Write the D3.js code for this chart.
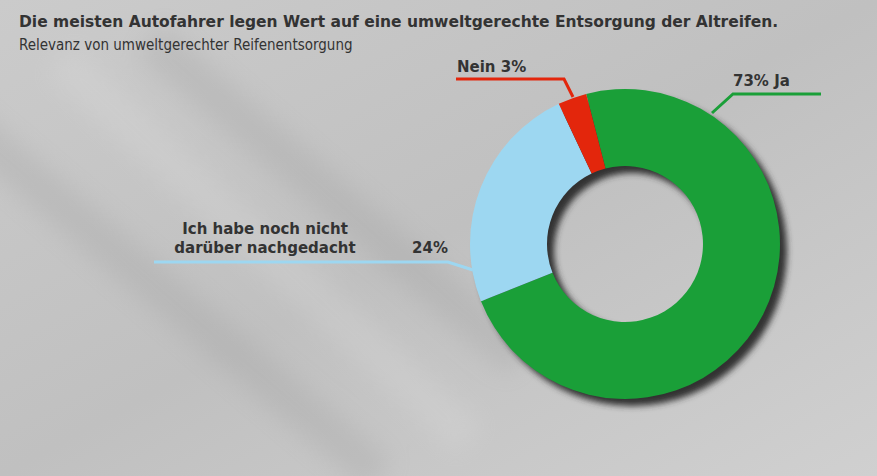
<!DOCTYPE html>
<html lang="de">
<head>
<meta charset="UTF-8">
<title>Reifenentsorgung</title>
<style>
  body { margin: 0; overflow: hidden; }
  text { font-family: "DejaVu Sans", sans-serif; fill: #333; }
</style>
</head>
<body>
<div id="chart"></div>
<script src="https://d3js.org/d3.v7.min.js"></script>
<script>
// data
var categories = ["Ja", "Ich habe noch nicht darüber nachgedacht", "Nein"];
var values = [73, 24, 3];
var colors = ["#1a9f38", "#9dd7f1", "#e3260c"];

var width = 877, height = 476;
var cx = 625, cy = 244, rOuter = 155, rInner = 78;

var svg = d3.select("#chart").append("svg")
    .attr("width", width).attr("height", height);

var defs = svg.append("defs");
var bg = defs.append("linearGradient").attr("id", "bg")
    .attr("x1", "0").attr("y1", "0").attr("x2", "1").attr("y2", "1");
bg.append("stop").attr("offset", "0").attr("stop-color", "#cbcbcb");
bg.append("stop").attr("offset", "0.5").attr("stop-color", "#c0c0c0");
bg.append("stop").attr("offset", "1").attr("stop-color", "#d0d0d0");

var blur = defs.append("filter").attr("id", "shadow")
    .attr("x", "-20%").attr("y", "-20%").attr("width", "140%").attr("height", "140%");
blur.append("feGaussianBlur").attr("stdDeviation", 3);

var blurBg = defs.append("filter").attr("id", "soft");
blurBg.append("feGaussianBlur").attr("stdDeviation", 12);

svg.append("rect").attr("width", width).attr("height", height).attr("fill", "url(#bg)");

// faint background streaks
var streaks = svg.append("g").attr("filter", "url(#soft)").attr("opacity", 0.18);
[[-40, 120, 380, 476], [60, 60, 470, 440], [150, 40, 520, 360]].forEach(function(s, i) {
  streaks.append("line").attr("x1", s[0]).attr("y1", s[1]).attr("x2", s[2]).attr("y2", s[3])
    .attr("stroke", i === 1 ? "#e8e8e8" : "#8a8a8a").attr("stroke-width", 40);
});

// title
svg.append("text").attr("x", 19).attr("y", 27)
    .style("font-size", "15.5px").style("font-weight", "bold")
    .text("Die meisten Autofahrer legen Wert auf eine umweltgerechte Entsorgung der Altreifen.");
svg.append("text").attr("x", 19).attr("y", 50)
    .style("font-family", "'Liberation Sans Narrow', 'DejaVu Sans Condensed', sans-serif")
    .style("font-size", "15px")
    .text("Relevanz von umweltgerechter Reifenentsorgung");

// donut
var start = -14.5 * Math.PI / 180;
var pie = d3.pie().sort(null)
    .startAngle(start).endAngle(start + 2 * Math.PI)(values);
var arc = d3.arc().innerRadius(rInner).outerRadius(rOuter);

var g = svg.append("g").attr("transform", "translate(" + cx + "," + cy + ")");

// shadow of the ring
g.append("path")
    .attr("d", d3.arc().innerRadius(rInner).outerRadius(rOuter)({startAngle: 0, endAngle: 2 * Math.PI}))
    .attr("transform", "translate(7,7)")
    .attr("fill", "#333")
    .attr("filter", "url(#shadow)");

g.selectAll("path.slice").data(pie).enter().append("path")
    .attr("class", "slice")
    .attr("d", arc)
    .attr("fill", function(d, i) { return colors[i]; });

// leader lines + labels
var line = d3.line();
var boldStyle = function(t) { return t.style("font-size", "15px").style("font-weight", "bold"); };

svg.append("path").attr("d", line([[712, 113], [733, 94], [821, 94]]))
    .attr("fill", "none").attr("stroke", colors[0]).attr("stroke-width", 3);
boldStyle(svg.append("text").attr("x", 733).attr("y", 86).text(values[0] + "% " + categories[0]));

svg.append("path").attr("d", line([[573, 97], [564, 79], [456, 79]]))
    .attr("fill", "none").attr("stroke", colors[2]).attr("stroke-width", 3);
boldStyle(svg.append("text").attr("x", 457).attr("y", 72).text(categories[2] + " " + values[2] + "%"));

svg.append("path").attr("d", line([[473, 270], [448, 262], [154, 262]]))
    .attr("fill", "none").attr("stroke", colors[1]).attr("stroke-width", 3);
boldStyle(svg.append("text").attr("x", 265).attr("y", 234).attr("text-anchor", "middle").text("Ich habe noch nicht"));
boldStyle(svg.append("text").attr("x", 265).attr("y", 253).attr("text-anchor", "middle").text("darüber nachgedacht"));
boldStyle(svg.append("text").attr("x", 448).attr("y", 253).attr("text-anchor", "end").text(values[1] + "%"));
</script>
</body>
</html>
